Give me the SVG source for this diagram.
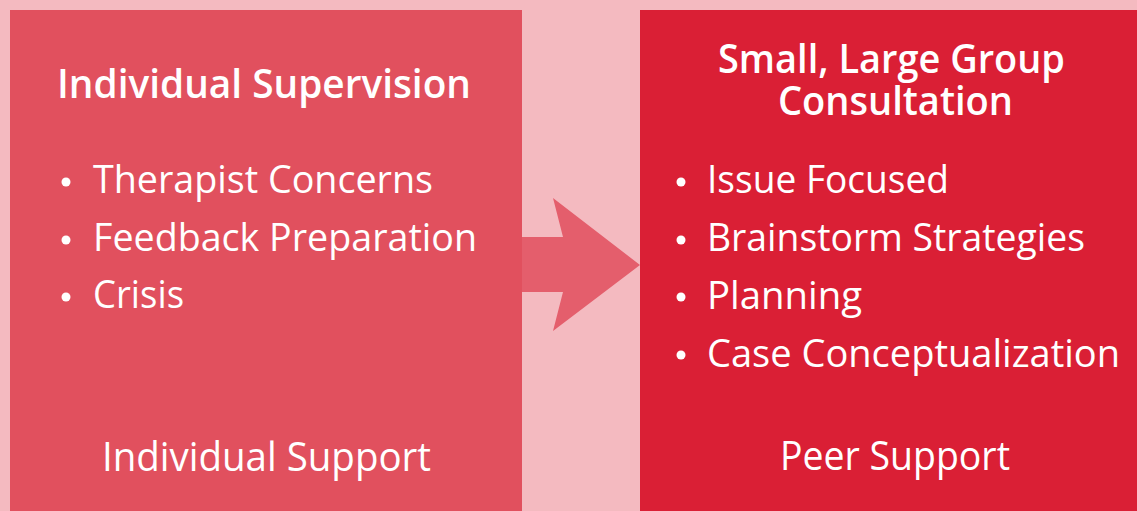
<svg xmlns="http://www.w3.org/2000/svg" width="1137" height="511" viewBox="0 0 1137 511">
  <style>
    text { font-family: "Open Sans", "Noto Sans", "Liberation Sans", sans-serif; fill: #ffffff; }
    .title { font-size: 40px; font-weight: 600; }
    .item { font-size: 38px; font-weight: 400; }
    .foot { font-size: 40px; font-weight: 400; }
    .dot { fill: #ffffff; }
  </style>
  <rect x="0" y="0" width="1137" height="511" fill="#F4BAC0"/>
  <g id="connectors">
    <polygon points="522,237 563,237 553,198 640,265 553,331 563,292 522,292" fill="#E45E6C"/>
  </g>
  <g id="individual-supervision">
    <rect x="10" y="10" width="512" height="501" fill="#E1505E"/>
    <text class="title" x="57" y="98" textLength="414" lengthAdjust="spacingAndGlyphs">Individual Supervision</text>
    <circle class="dot" cx="66" cy="182" r="4.5"/>
    <text class="item" x="93" y="193" textLength="340" lengthAdjust="spacingAndGlyphs">Therapist Concerns</text>
    <circle class="dot" cx="66" cy="240" r="4.5"/>
    <text class="item" x="93" y="251" textLength="384" lengthAdjust="spacingAndGlyphs">Feedback Preparation</text>
    <circle class="dot" cx="66" cy="297" r="4.5"/>
    <text class="item" x="93" y="308" textLength="91" lengthAdjust="spacingAndGlyphs">Crisis</text>
    <text class="foot" x="102" y="471" textLength="329" lengthAdjust="spacingAndGlyphs">Individual Support</text>
  </g>
  <g id="group-consultation">
    <rect x="640" y="10" width="497" height="501" fill="#DA1F35"/>
    <text class="title" x="718" y="73" textLength="347" lengthAdjust="spacingAndGlyphs">Small, Large Group</text>
    <text class="title" x="778" y="115" textLength="235" lengthAdjust="spacingAndGlyphs">Consultation</text>
    <circle class="dot" cx="681" cy="182" r="4.5"/>
    <text class="item" x="707" y="193" textLength="242" lengthAdjust="spacingAndGlyphs">Issue Focused</text>
    <circle class="dot" cx="681" cy="240" r="4.5"/>
    <text class="item" x="707" y="251" textLength="378" lengthAdjust="spacingAndGlyphs">Brainstorm Strategies</text>
    <circle class="dot" cx="681" cy="297" r="4.5"/>
    <text class="item" x="707" y="308.5" textLength="155" lengthAdjust="spacingAndGlyphs">Planning</text>
    <circle class="dot" cx="681" cy="355" r="4.5"/>
    <text class="item" x="707" y="366.5" textLength="413" lengthAdjust="spacingAndGlyphs">Case Conceptualization</text>
    <text class="foot" x="780" y="470" textLength="230" lengthAdjust="spacingAndGlyphs">Peer Support</text>
  </g>
</svg>
